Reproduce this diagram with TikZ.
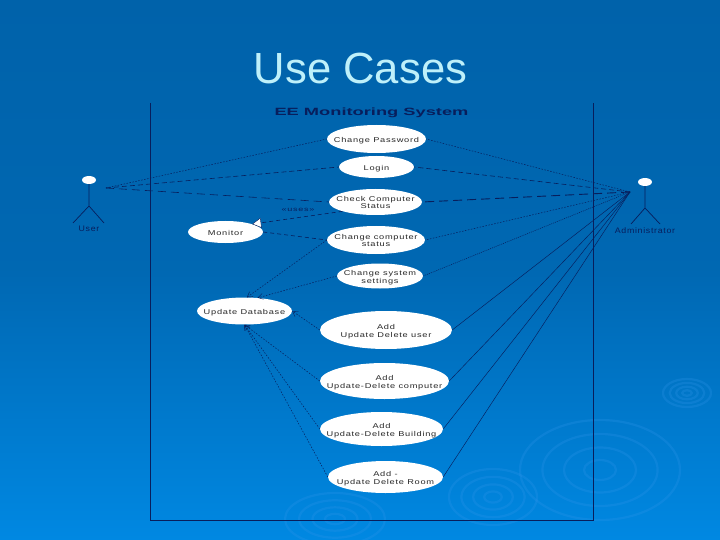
\documentclass[tikz,border=0pt]{standalone}
\usepackage{fontspec}
\setmainfont{Liberation Sans}
\usetikzlibrary{arrows.meta,shapes.geometric}
\definecolor{slidetop}{RGB}{0,98,170}
\definecolor{slidebot}{RGB}{0,136,226}
\definecolor{ripple}{RGB}{50,150,235}
\definecolor{umlink}{RGB}{8,30,92}
\definecolor{titlecol}{RGB}{190,240,250}
% text of a use case, kept out of the size of its ellipse
\newcommand{\casetext}[1]{\makebox[0pt]{\raisebox{-3.5pt}[0pt][0pt]{\scalebox{1.32}[1]{\begin{tabular}{@{}c@{}}#1\end{tabular}}}}}
\tikzset{
  usecase/.style={ellipse,fill=white,inner sep=0pt,font=\fontsize{7}{7.5}\selectfont\addfontfeature{LetterSpace=8},text=black!85},
  actorhead/.style={ellipse,fill=white,minimum width=14pt,minimum height=8pt,inner sep=0pt},
  actorlabel/.style={font=\fontsize{8}{9}\selectfont\addfontfeature{LetterSpace=8},text=umlink,xscale=1.1,transform shape},
  dashlink/.style={umlink,line width=0.6pt,dash pattern=on 5pt off 3pt},
  dotlink/.style={umlink,line width=0.5pt,dash pattern=on 1.5pt off 1.5pt},
  thinlink/.style={umlink,line width=0.45pt},
  openhead/.style={-{Straight Barb[length=5pt,width=6pt,line width=0.4pt]}},
}
\begin{document}
\begin{tikzpicture}[x=1pt,y=-1pt]
    \useasboundingbox (0,0) rectangle (720,540);
    \shade[top color=slidetop,bottom color=slidebot,middle color=slidetop!85!slidebot] (0,0) rectangle (720,540);
    % ripples in the background
    \begin{scope}[ripple,line width=2.2pt,opacity=0.25]
      \foreach \r in {0.2,0.45,0.72,1} {
        \draw (600,470) ellipse ({80*\r} and {50*\r});
        \draw (493,497) ellipse ({44*\r} and {28*\r});
        \draw (687,393) ellipse ({24*\r} and {14*\r});
        \draw (335,519) ellipse ({50*\r} and {26*\r});
      }
    \end{scope}
    \node (title) at (360.5,68) {\fontsize{43.6}{44}\selectfont\color{titlecol}Use Cases};
    % system boundary
    \draw[umlink,line width=0.7pt] (150,103) -- (150,520) -- (593,520) -- (593,103);
    \node[umlink,font=\bfseries\fontsize{10.5}{11}\selectfont,xscale=1.74,transform shape] (system) at (371.5,112.5) {EE Monitoring System};
    % use cases
    \node[usecase,minimum width=99pt,minimum height=28pt] (password) at (376.5,139) {\casetext{Change Password}};
    \node[usecase,minimum width=75pt,minimum height=22pt] (login) at (376.5,167) {\casetext{Login}};
    \node[usecase,minimum width=93pt,minimum height=26pt] (check) at (375.5,202) {\casetext{Check Computer\\Status}};
    \node[usecase,minimum width=98pt,minimum height=28pt] (change) at (376,240) {\casetext{Change computer\\status}};
    \node[usecase,minimum width=86pt,minimum height=25pt] (settings) at (380,276) {\casetext{Change system\\settings}};
    \node[usecase,minimum width=75pt,minimum height=22pt] (monitor) at (225.5,232) {\casetext{Monitor}};
    \node[usecase,minimum width=95pt,minimum height=27pt] (database) at (244.5,311) {\casetext{Update Database}};
    \node[usecase,minimum width=132pt,minimum height=38pt] (adduser) at (386,330) {\casetext{Add\\Update Delete user}};
    \node[usecase,minimum width=129pt,minimum height=36pt] (addcomp) at (384.5,381) {\casetext{Add\\Update-Delete computer}};
    \node[usecase,minimum width=123pt,minimum height=34pt] (addbuild) at (381.5,429) {\casetext{Add\\Update-Delete Building}};
    \node[usecase,minimum width=115pt,minimum height=32pt] (addroom) at (385.5,477) {\casetext{Add -\\Update Delete Room}};
    % actors
    \node[actorhead] (userhead) at (89,180) {};
    \coordinate (userhip) at (89,206);
    \draw[umlink,line width=0.7pt] (userhead) -- (userhip) -- (73,223) (userhip) -- (104,223);
    \node[actorlabel] (user) at (89,229) {User};
    \coordinate (userend) at (106,188);
    \node[actorhead] (adminhead) at (645,182) {};
    \coordinate (adminhip) at (645,208);
    \draw[umlink,line width=0.7pt] (adminhead) -- (adminhip) -- (631,224) (adminhip) -- (660,224);
    \node[actorlabel] (admin) at (645,231) {Administrator};
    \coordinate (adminend) at (630,192);
    % user links
    \draw[dotlink] (userend) -- (password.west);
    \draw[dashlink] (userend) -- (login.west);
    \draw[dashlink,dash pattern=on 8pt off 5pt] (userend) -- (check.west);
    % administrator links
    \draw[dotlink] (adminend) -- (password.east);
    \draw[dashlink] (adminend) -- (login.east);
    \draw[dashlink,line width=0.9pt,dash pattern=on 9pt off 5pt] (adminend) -- (check.east);
    \draw[dotlink] (adminend) -- (change.east);
    \draw[dotlink,dash pattern=on 1pt off 1pt] (adminend) -- (settings.east);
    \foreach \k in {adduser,addcomp,addbuild,addroom} {
      \draw[thinlink] (adminend) -- (\k.east);
    }
    % monitor
    \draw[dashlink,dash pattern=on 4pt off 3pt,-{Triangle[open,fill=white,length=9pt,width=10pt,line width=0.4pt]}] (check.south west) -- (monitor.north east);
    \node[font=\fontsize{6}{6}\selectfont\addfontfeature{LetterSpace=8},text=umlink,xscale=1.5,transform shape] (uses) at (298,210) {<<uses>>};
    \draw[dashlink,dash pattern=on 4pt off 3pt] (monitor.east) -- (change.west);
    % database
    \draw[dotlink,openhead] (change.west) -- (database.80);
    \draw[dotlink,openhead] (settings.west) -- (database.45);
    \draw[dotlink,openhead] (adduser.west) -- (database.east);
    \foreach \k in {addcomp,addbuild,addroom} {
      \draw[dotlink,openhead] (\k.west) -- (database.south);
    }
  \end{tikzpicture}
\end{document}
